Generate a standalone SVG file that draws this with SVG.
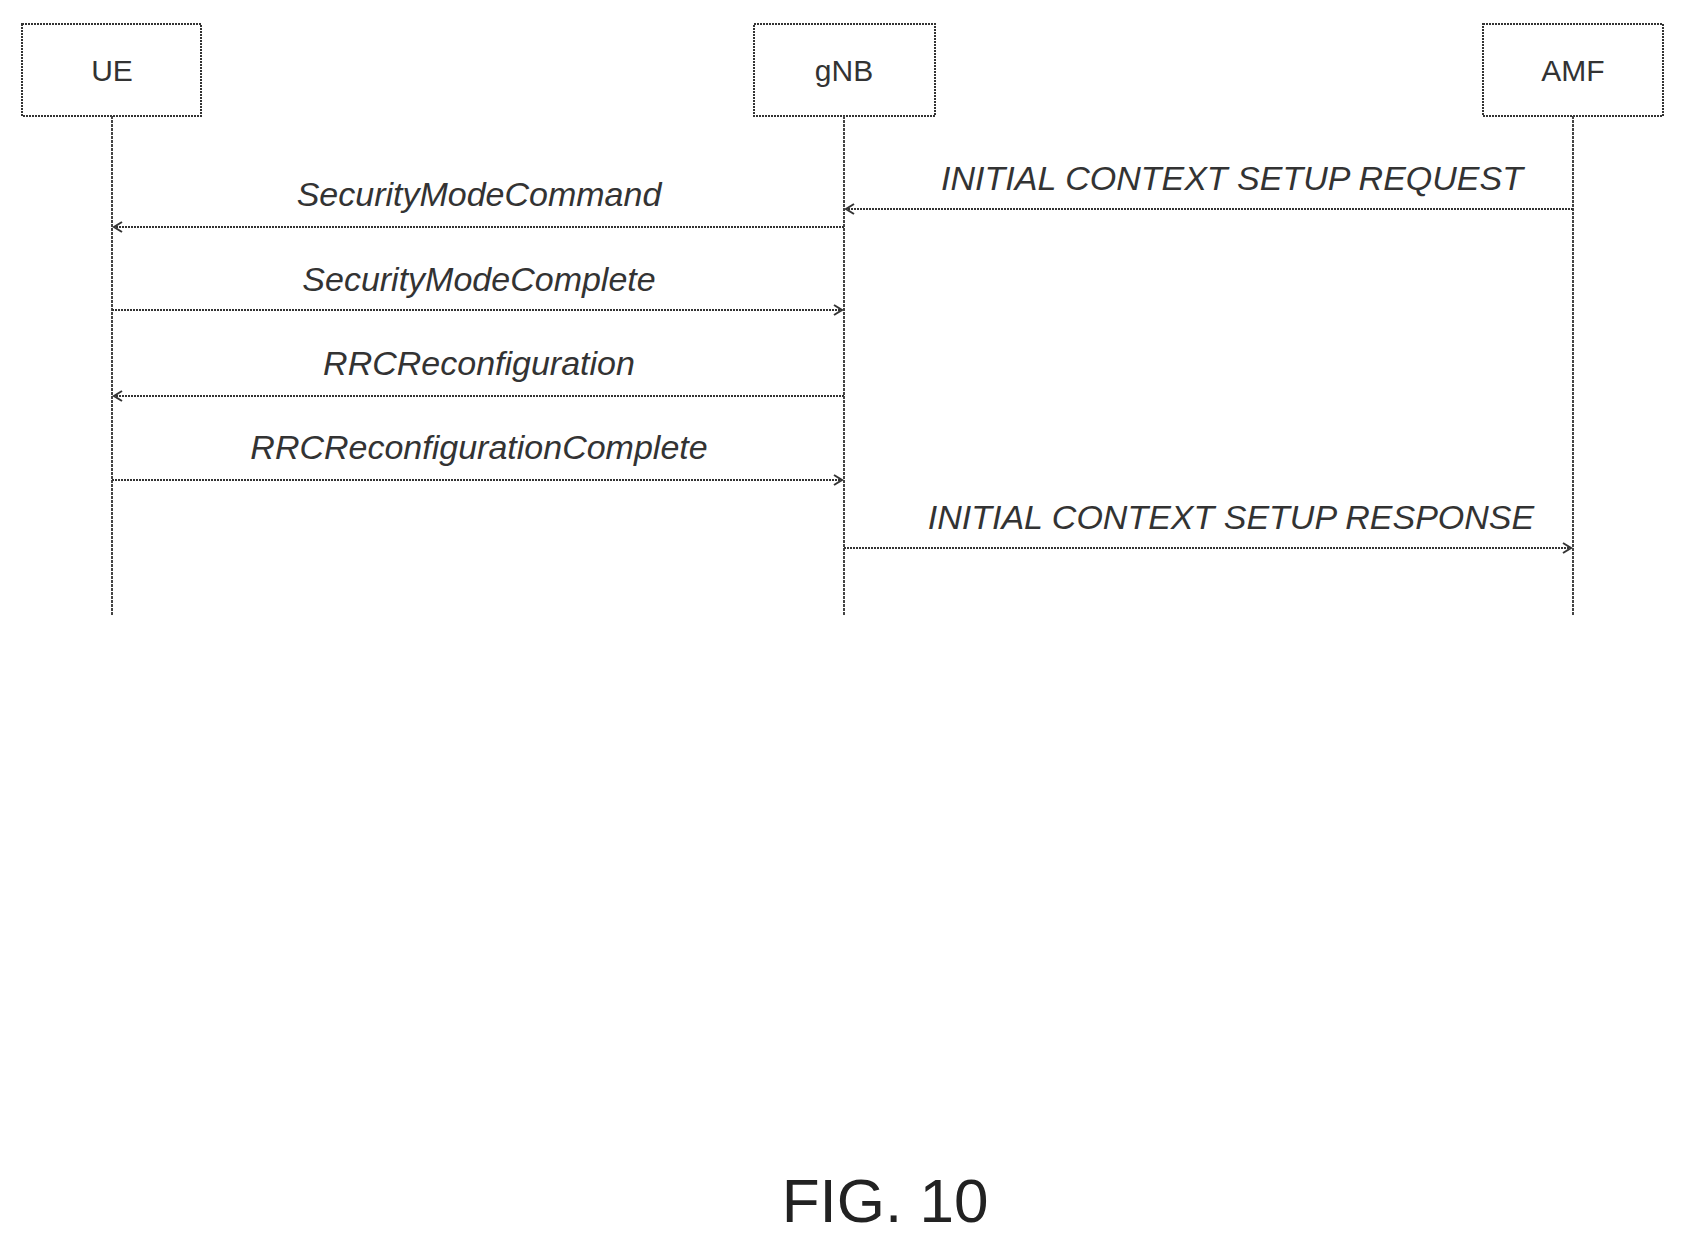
<svg xmlns="http://www.w3.org/2000/svg" width="1698" height="1244" viewBox="0 0 1698 1244">
<style>
.box{fill:#fff;stroke:#333;stroke-width:2;stroke-dasharray:2,1}
.life{stroke:#444;stroke-width:2;stroke-dasharray:3,1;fill:none}
.msg{stroke:#333;stroke-width:2;stroke-dasharray:2,1;fill:none;marker-end:url(#ah)}
.lbl{font-family:"Liberation Sans",Arial,sans-serif;font-size:34px;font-style:italic;fill:#333;text-anchor:middle}
.nm{font-family:"Liberation Sans",Arial,sans-serif;font-size:30px;fill:#333;text-anchor:middle}
</style>
<defs><marker id="ah" markerWidth="12" markerHeight="12" refX="10" refY="6" orient="auto" markerUnits="userSpaceOnUse"><path d="M2,1 L10,6 L2,11" fill="none" stroke="#333" stroke-width="2"/></marker></defs>
<g id="ue"><rect class="box" x="22" y="24" width="179" height="92"/><text class="nm" x="112" y="81">UE</text><line class="life" x1="112" y1="116" x2="112" y2="615"/></g>
<g id="gnb"><rect class="box" x="754" y="24" width="181" height="92"/><text class="nm" x="844" y="81">gNB</text><line class="life" x1="844" y1="116" x2="844" y2="615"/></g>
<g id="amf"><rect class="box" x="1483" y="24" width="180" height="92"/><text class="nm" x="1573" y="81">AMF</text><line class="life" x1="1573" y1="116" x2="1573" y2="615"/></g>
<g id="connectors">
<line class="msg" x1="1573" y1="209" x2="846" y2="209"/>
<line class="msg" x1="844" y1="227" x2="114" y2="227"/>
<line class="msg" x1="112" y1="310" x2="842" y2="310"/>
<line class="msg" x1="844" y1="396" x2="114" y2="396"/>
<line class="msg" x1="112" y1="480" x2="842" y2="480"/>
<line class="msg" x1="844" y1="548" x2="1571" y2="548"/>
</g>
<g id="labels">
<text class="lbl" x="1232" y="190">INITIAL CONTEXT SETUP REQUEST</text>
<text class="lbl" x="479" y="206">SecurityModeCommand</text>
<text class="lbl" x="479" y="291">SecurityModeComplete</text>
<text class="lbl" x="479" y="375">RRCReconfiguration</text>
<text class="lbl" x="479" y="459">RRCReconfigurationComplete</text>
<text class="lbl" x="1231" y="529">INITIAL CONTEXT SETUP RESPONSE</text>
</g>
<text x="885" y="1222" font-family="Liberation Sans,Arial,sans-serif" font-size="62" fill="#222" text-anchor="middle">FIG. 10</text>
</svg>
